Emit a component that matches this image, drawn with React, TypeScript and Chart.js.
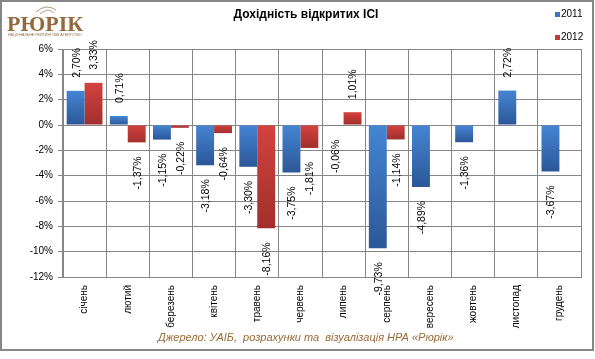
import React, { useEffect, useRef } from "react";
import { Chart, registerables } from "chart.js";

Chart.register(...registerables);

const categories = ["січень", "лютий", "березень", "квітень", "травень", "червень", "липень", "серпень", "вересень", "жовтень", "листопад", "грудень"];
const series2011 = [2.70, 0.71, -1.15, -3.18, -3.30, -3.75, -0.06, -9.73, -4.89, -1.36, 2.72, -3.67];
const series2012 = [3.33, -1.37, -0.22, -0.64, -8.16, -1.81, 1.01, -1.14, null, null, null, null];
const seriesNames = ["2011", "2012"];
const yTicks = { min: -12, max: 6, step: 2 };

const titleText = "Дохідність відкритих ІСІ";
const sourceText = "Джерело: УАІБ,  розрахунки та  візуалізація НРА «Рюрік»";

const FONT = "'Liberation Sans', Arial, sans-serif";

const palette = [
  { top: "#4585d3", bottom: "#2c5798", legend: "#3a74c2" },
  { top: "#d4423f", bottom: "#a12f2c", legend: "#c23a36" },
];

function gradientFor(idx: number) {
  return (ctx: any) => {
    const chart = ctx.chart;
    const v = ctx.raw;
    const ys = chart.scales && chart.scales.y;
    if (v == null || !ys || !chart.chartArea) return palette[idx].top;
    const y1 = ys.getPixelForValue(Math.max(v, 0));
    const y2 = ys.getPixelForValue(Math.min(v, 0));
    const g = chart.ctx.createLinearGradient(0, y1, 0, Math.max(y2, y1 + 1));
    g.addColorStop(0, palette[idx].top);
    g.addColorStop(1, palette[idx].bottom);
    return g;
  };
}

const decorPlugin = {
  id: "decor",
  afterDatasetsDraw(chart: any) {
    const ctx = chart.ctx;
    // data labels
    ctx.save();
    ctx.fillStyle = "#000";
    ctx.font = `10.5px ${FONT}`;
    ctx.textBaseline = "middle";
    chart.data.datasets.forEach((ds: any, di: number) => {
      const meta = chart.getDatasetMeta(di);
      meta.data.forEach((el: any, i: number) => {
        const v = ds.data[i];
        if (v == null) return;
        const label = v.toFixed(2).replace(".", ",") + "%";
        ctx.save();
        ctx.translate(el.x + 1, el.y);
        ctx.rotate(-Math.PI / 2);
        if (v >= 0) {
          ctx.textAlign = "left";
          ctx.fillText(label, 13, 0);
        } else {
          ctx.textAlign = "right";
          ctx.fillText(label, -14, 0);
        }
        ctx.restore();
      });
    });
    ctx.restore();
  },
  afterDraw(chart: any) {
    const ctx = chart.ctx;
    ctx.save();
    // frame
    ctx.strokeStyle = "#868686";
    ctx.lineWidth = 2;
    ctx.strokeRect(1, 1, 592, 349);
    // title
    ctx.fillStyle = "#000";
    ctx.font = `bold 12px ${FONT}`;
    ctx.textAlign = "center";
    ctx.textBaseline = "middle";
    ctx.fillText(titleText, 306, 15);
    // legend
    ctx.font = `10px ${FONT}`;
    ctx.textAlign = "left";
    const ly = [14.5, 37.5];
    seriesNames.forEach((name, i) => {
      ctx.fillStyle = palette[i].legend;
      ctx.fillRect(555, ly[i] - 2.5, 5, 5);
      ctx.fillStyle = "#000";
      ctx.fillText(name, 561, ly[i]);
    });
    // source
    ctx.font = `italic 11px ${FONT}`;
    ctx.fillStyle = "#9a6a36";
    ctx.textAlign = "left";
    ctx.fillText(sourceText, 158, 338);
    // logo
    ctx.fillStyle = "#94693f";
    ctx.font = `bold 22px 'Liberation Serif', 'DejaVu Serif', serif`;
    ctx.textAlign = "left";
    ctx.textBaseline = "alphabetic";
    ctx.fillText("РЮРІК", 7, 31);
    ctx.font = `3.6px ${FONT}`;
    ctx.fillText("НАЦІОНАЛЬНЕ РЕЙТИНГОВЕ АГЕНТСТВО", 8, 36);
    ctx.strokeStyle = "#b8987a";
    ctx.lineWidth = 1;
    ctx.beginPath();
    ctx.moveTo(36, 12);
    ctx.quadraticCurveTo(46, 3, 56, 10);
    ctx.stroke();
    ctx.beginPath();
    ctx.moveTo(40, 14);
    ctx.quadraticCurveTo(48, 7, 54, 13);
    ctx.stroke();
    ctx.restore();
  },
};

export default function App() {
  const ref = useRef<HTMLCanvasElement | null>(null);
  useEffect(() => {
    if (!ref.current) return;
    const chart = new Chart(ref.current, {
      type: "bar",
      data: {
        labels: categories,
        datasets: [
          { label: seriesNames[0], data: series2011, backgroundColor: gradientFor(0), borderWidth: 0 },
          { label: seriesNames[1], data: series2012 as any, backgroundColor: gradientFor(1), borderWidth: 0 },
        ],
      },
      options: {
        responsive: false,
        animation: false,
        devicePixelRatio: 1,
        layout: { padding: { left: 0, top: 49, right: 14, bottom: 0 } },
        datasets: { bar: { categoryPercentage: 0.83, barPercentage: 1 } },
        plugins: { legend: { display: false }, tooltip: { enabled: false }, title: { display: false } },
        scales: {
          x: {
            grid: { color: "#868686", lineWidth: 1, drawTicks: false, offset: true },
            border: { color: "#868686" },
            ticks: {
              autoSkip: false,
              maxRotation: 90,
              minRotation: 90,
              padding: 8,
              color: "#000",
              font: { family: FONT, size: 10 },
            },
            afterFit: (s: any) => { s.height = 82; },
          },
          y: {
            min: yTicks.min,
            max: yTicks.max,
            grid: { color: "#868686", lineWidth: 1, tickLength: 5 },
            border: { color: "#868686" },
            ticks: {
              stepSize: yTicks.step,
              padding: 5,
              color: "#000",
              font: { family: FONT, size: 10 },
              callback: (v: any) => `${v}%`,
            },
            afterFit: (s: any) => { s.width = 63; },
          },
        },
      },
      plugins: [decorPlugin],
    });
    return () => chart.destroy();
  }, []);
  return (
    <div style={{ position: "absolute", left: 0, top: 0, width: 595, height: 359, background: "#fff" }}>
      <canvas ref={ref} width={595} height={359} style={{ width: 595, height: 359, display: "block" }} />
    </div>
  );
}
